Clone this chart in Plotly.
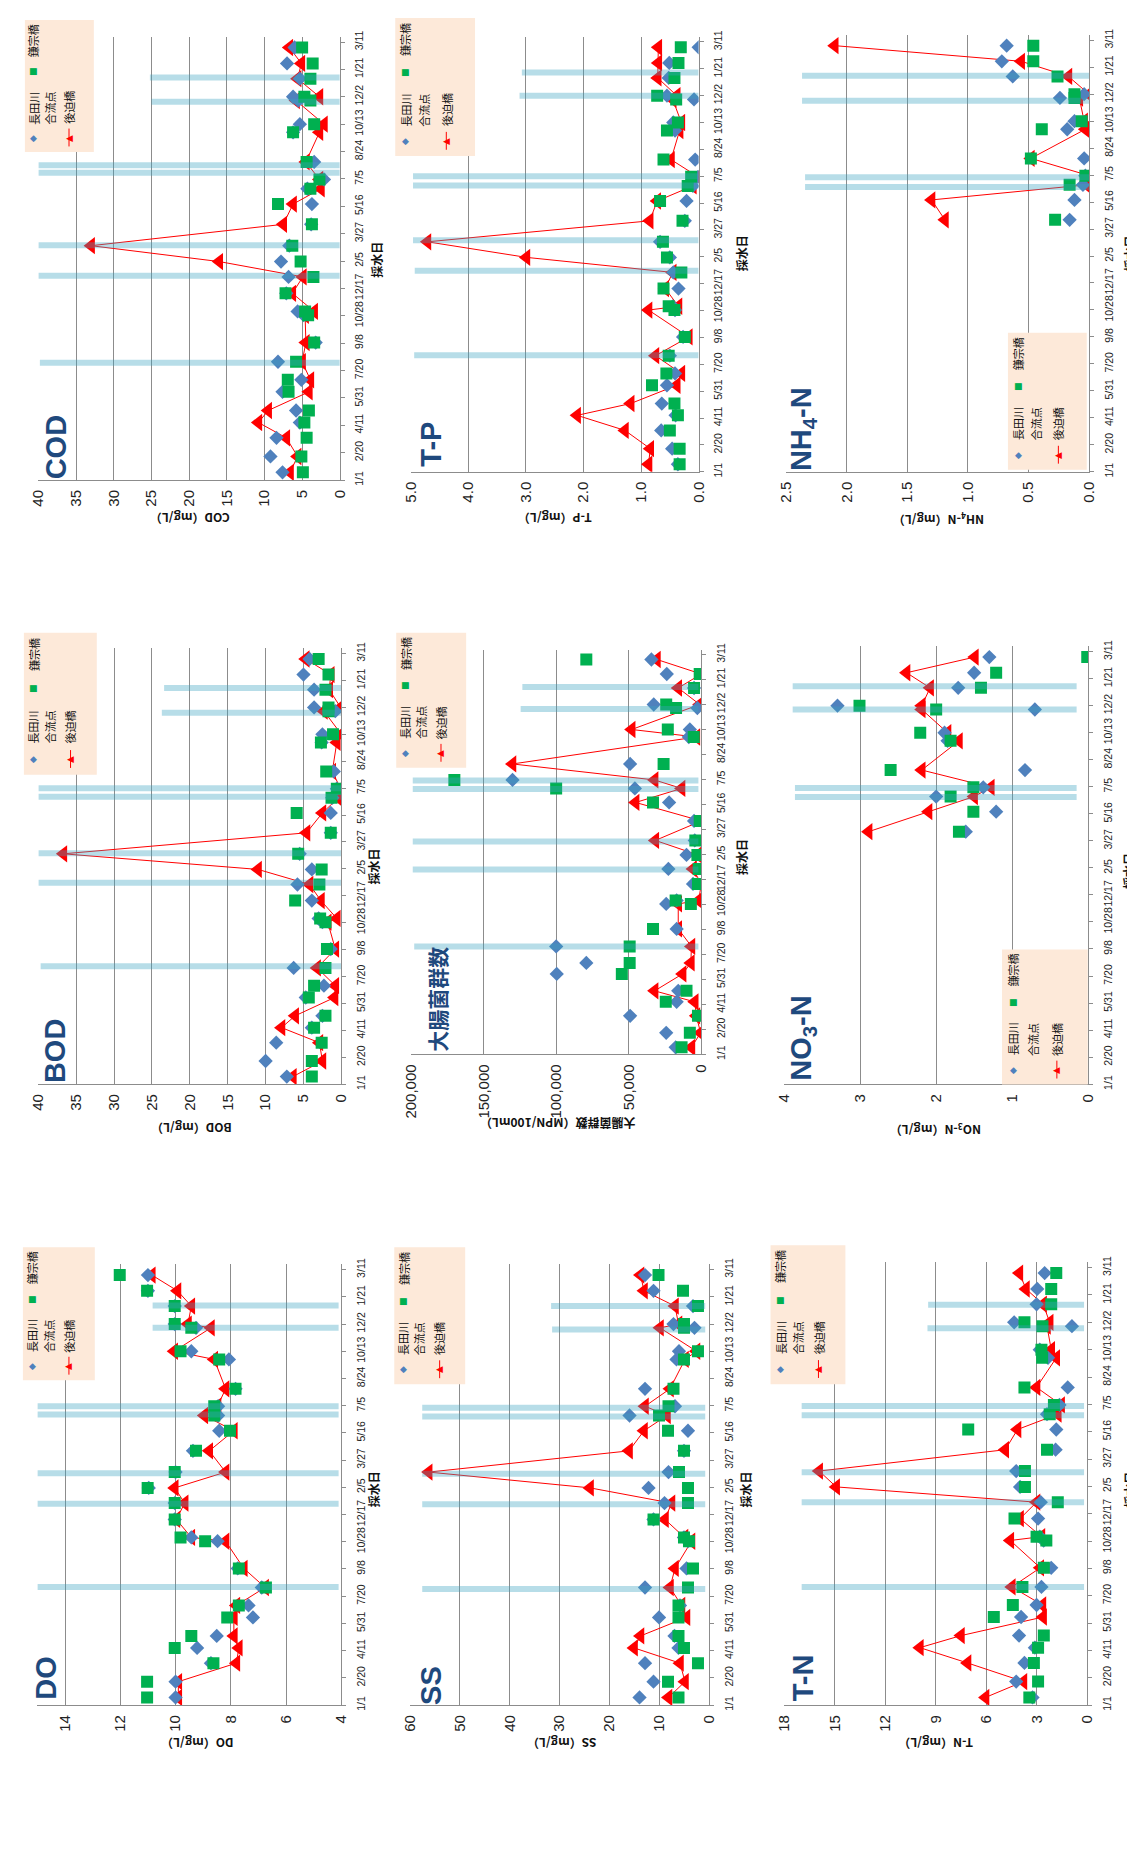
import plotly.graph_objects as go

W, H = 1135, 1852

# ---------------- data ----------------
sample_dates = ["2014-01-15", "2014-02-13", "2014-03-19", "2014-04-16", "2014-05-08",
                "2014-06-11", "2014-07-03", "2014-08-05", "2014-09-09", "2014-10-29",
                "2014-11-05", "2014-12-08", "2015-01-07", "2015-02-04", "2015-03-05",
                "2015-04-13", "2015-05-20", "2015-06-17", "2015-07-04", "2015-08-05",
                "2015-09-28", "2015-10-13", "2015-11-25", "2015-12-02", "2016-01-04",
                "2016-02-01", "2016-03-01"]

station_names = ["長田川", "合流点", "鎌宗橋", "後迫橋"]
N0 = [None] * 15

cod_nagata = [7.6, 9.2, 8.4, 5.3, 5.8, 7.6, 5.1, 8.2, 3.2, 4.8, 5.6, 7.1, 6.8, 7.8, 6.7, 3.8, 3.7, 4.3, 2.1, 3.4, 6.2, 5.3, 5.5, 6.2, 5.3, 7.0, 6.0]
cod_kama = [4.9, 5.1, 4.4, 4.7, 4.1, 6.8, 6.9, 5.8, 3.4, 4.2, 4.6, 7.2, 3.5, 5.2, 6.3, 3.7, 8.2, 3.9, 2.7, 4.4, 6.2, 3.4, 3.9, 4.7, 3.9, 3.6, 5.0]
cod_ushiro = [6.6, 5.6, 7.1, 10.8, 9.5, 4.1, 3.9, 5.0, 4.5, 4.6, 3.4, 6.3, 4.9, 16.0, 33.0, 7.5, 6.2, 2.5, 2.7, 4.5, 2.7, 2.1, 5.8, 2.7, 5.6, 5.1, 6.7]
cod_rain_dates = ["2014-08-03", "2015-01-09", "2015-03-06", "2015-07-16", "2015-07-30", "2015-11-23", "2016-01-06"]
cod_rain_top = [39.8, 40, 40, 40, 40, 25.0, 25.2]

tp_nagata = [0.36, 0.46, 0.65, 0.40, 0.64, 0.55, 0.41, 0.50, 0.27, 0.41, 0.45, 0.35, 0.44, 0.50, 0.67, 0.24, 0.21, 0.10, 0.01, 0.06, 0.41, 0.44, 0.08, 0.55, 0.52, 0.51, 0.0]
tp_kama = [0.33, 0.33, 0.50, 0.36, 0.42, 0.81, 0.56, 0.52, 0.24, 0.42, 0.52, 0.61, 0.30, 0.55, 0.62, 0.28, 0.67, 0.19, 0.13, 0.61, 0.55, 0.36, 0.39, 0.72, 0.42, 0.35, 0.31]
tp_ushiro = [0.87, 0.84, 1.28, 2.11, 1.18, 0.38, 0.30, 0.75, 0.17, 0.87, 0.35, 0.58, 0.45, 2.99, 4.71, 0.85, 0.72, 0.10, 0.01, 0.48, 0.33, 0.30, 0.45, 0.38, 0.71, 0.70, 0.70]
tp_rain_dates = ["2014-08-06", "2015-01-10", "2015-03-08", "2015-06-18", "2015-07-05", "2015-12-02", "2016-01-14"]
tp_rain_top = [4.94, 4.93, 4.96, 4.96, 4.96, 3.11, 3.07]

nh4_nagata = N0 + [0.16, 0.12, 0.05, 0.03, 0.04, 0.18, 0.12, 0.24, 0.04, 0.63, 0.72, 0.68]
nh4_kama = N0 + [0.28, None, 0.16, 0.03, 0.48, 0.39, 0.06, 0.12, 0.12, 0.26, 0.46, 0.46]
nh4_ushiro = N0 + [1.19, 1.30, 0.02, 0.0, 0.48, 0.03, 0.04, 0.08, 0.0, 0.17, 0.56, 2.10]
nh4_rain_dates = ["2015-06-13", "2015-07-01", "2015-11-20", "2016-01-05"]
nh4_rain_top = [2.345, 2.345, 2.37, 2.37]

bod_nagata = [7.2, 10.0, 8.6, 3.9, 2.5, 4.7, 2.3, 6.3, 1.4, 2.5, 3.0, 3.9, 5.8, 3.9, 5.5, 1.4, 1.4, 1.2, 0.6, 1.0, 2.6, 2.5, 0.8, 3.6, 3.6, 5.0, 4.2]
bod_kama = [3.9, 3.9, 2.6, 3.6, 2.1, 4.3, 3.6, 2.1, 1.9, 2.1, 2.8, 6.1, 2.9, 2.6, 5.7, 1.4, 5.9, 1.3, 0.6, 2.0, 2.7, 1.1, 1.7, 1.7, 2.1, 1.7, 3.0]
bod_ushiro = [6.4, 2.5, 2.9, 7.9, 6.1, 0.9, 0.8, 3.2, 0.8, 1.8, 0.6, 2.7, 4.2, 11.0, 36.7, 4.6, 2.5, 0.4, 0.1, 1.2, 0.6, 0.0, 2.3, 0.1, 1.6, 1.4, 4.7]
bod_rain_dates = ["2014-08-08", "2015-01-10", "2015-03-06", "2015-06-19", "2015-07-05", "2015-11-22", "2016-01-07"]
bod_rain_top = [39.7, 40, 40, 40, 40, 23.7, 23.4]

coli_nagata = [17700, 24200, 49100, 17000, 15900, 99700, 79300, 100100, 17000, 24200, 17000, 5700, 22700, 10200, 4500, 5000, 22200, 45800, 130200, 49100, 8600, 7900, 2700, 32800, 5000, 23800, 34400]
coli_kama = [13600, 7900, 2300, 24500, 10200, 54800, 49400, 49400, 33300, 7200, 17700, 2300, 1800, 2700, 4100, 1100, 33300, 100100, 170300, 26000, 5200, 23100, 17400, 24200, 5000, 1100, 79300]
coli_ushiro = [6800, 500, 3400, 4500, 32200, 12900, 7200, 6800, 15900, 15900, 1800, 0, 5700, 2300, 31700, 0, 45300, 13600, 32200, 130200, 3400, 48000, None, 1100, 15900, 0, 30600]
coli_rain_dates = ["2014-08-05", "2015-01-06", "2015-03-03", "2015-06-16", "2015-07-03", "2015-11-23", "2016-01-06"]
coli_rain_top = [198000, 199000, 199000, 199000, 199000, 124600, 123400]

no3_nagata = N0 + [1.61, 1.21, 2.00, 1.38, 0.83, 1.85, 1.89, 0.70, 3.30, 1.71, 1.50, 1.30]
no3_kama = N0 + [1.70, 1.51, 1.81, 1.51, 2.60, 1.81, 2.21, 2.00, 3.01, 1.41, 1.21, 0.01]
no3_ushiro = N0 + [2.89, 2.10, 1.50, 1.28, 2.19, 1.70, 1.85, 2.19, 2.19, 2.08, 2.39, 1.49]
no3_rain_dates = ["2015-06-16", "2015-07-03", "2015-11-25", "2016-01-07"]
no3_rain_top = [3.86, 3.86, 3.89, 3.89]

do_nagata = [10.0, 10.0, 8.72, 9.22, 8.51, 7.20, 7.36, 6.88, 7.75, 8.48, 9.43, 10.03, 10.03, 10.97, 10.0, 9.37, 8.42, 8.46, 8.46, 7.83, 8.07, 9.43, 9.26, 10.03, 10.03, 11.0, 11.0]
do_kama = [11.03, 11.03, 8.63, 10.03, 9.43, 8.13, 7.71, 6.73, 7.71, 8.93, 9.82, 10.03, 10.03, 11.01, 10.03, 9.26, 8.03, 8.60, 8.60, 7.83, 8.42, 9.82, 9.43, 10.03, 10.03, 11.03, 12.02]
do_ushiro = [9.9, 9.9, 7.80, 7.71, 7.89, 7.89, 7.8, 6.76, 7.53, 8.19, 9.43, 9.97, 9.67, 10.03, 8.19, 8.78, 7.89, 8.96, 8.48, 8.19, 8.60, 10.05, 8.72, 9.55, 9.43, 9.93, 10.86]
do_rain_dates = ["2014-08-06", "2015-01-06", "2015-03-03", "2015-06-19", "2015-07-04", "2015-11-25", "2016-01-05"]
do_rain_top = [15, 15, 15, 15, 15, 10.83, 10.83]

ss_nagata = [14.0, 11.2, 12.9, 6.2, 7.0, 10.1, 5.9, 12.9, 4.6, 4.3, 5.1, 11.2, 9.0, 12.2, 8.2, 5.1, 4.3, 16.0, 6.9, 12.9, 6.6, 6.1, 3.0, 7.2, 3.3, 11.2, 12.9]
ss_kama = [6.2, 8.3, 2.3, 5.1, 6.2, 6.2, 6.2, 4.3, 3.3, 4.1, 5.1, 11.2, 4.3, 4.3, 6.1, 5.1, 8.3, 10.1, 8.2, 7.2, 5.1, 2.3, 5.1, 5.1, 2.3, 5.3, 10.2]
ss_ushiro = [8.2, 4.9, 5.9, 15.1, 13.8, 4.6, 5.6, 7.9, 6.9, 3.6, 5.0, 8.9, 7.6, 23.9, 56.2, 16.1, 13.1, 8.5, 12.9, 7.9, 4.9, 2.6, 9.9, 6.2, 6.9, 13.1, 13.8]
ss_rain_dates = ["2014-08-02", "2015-01-05", "2015-03-02", "2015-06-15", "2015-07-01", "2015-11-22", "2016-01-04"]
ss_rain_top = [57.5, 57.5, 57.5, 57.5, 57.5, 31.5, 31.7]

tn_nagata = [3.26, 4.23, 3.74, 3.12, 4.06, 3.94, 3.02, 2.73, 2.15, 2.6, 2.83, 2.93, 2.77, 4.0, 4.23, 1.89, 1.85, 2.4, 1.66, 1.17, 2.34, 2.83, 0.92, 4.35, 3.02, 2.98, 2.54]
tn_kama = [3.45, 2.93, 3.18, 2.93, 2.59, 5.56, 4.43, 3.86, 2.59, 2.44, 3.02, 4.33, 1.76, 3.71, 3.71, 2.40, 7.08, 2.24, 1.99, 3.74, 2.69, 2.73, 2.67, 3.74, 2.15, 2.15, 1.85]
tn_ushiro = [6.05, 3.80, 7.12, 9.95, 7.51, 2.63, 2.67, 4.49, 2.8, 4.58, 2.73, 4.0, 3.02, 14.92, 15.93, 4.88, 4.15, 1.76, 1.56, 3.02, 1.85, 2.15, 2.4, 2.24, 2.63, 3.65, 4.04]
tn_rain_dates = ["2014-08-05", "2015-01-07", "2015-03-03", "2015-06-15", "2015-07-02", "2015-11-21", "2016-01-03"]
tn_rain_top = [16.97, 16.97, 16.97, 16.97, 16.97, 9.5, 9.46]

# ---------------- styling / layout ----------------
C_BLUE = "#4F81BD"
C_GREEN = "#00B050"
C_RED = "#FF0000"
C_RAIN = "rgba(60,162,193,0.37)"
C_GRID = "#8C8C8C"
C_LABEL = "#1F497D"
C_LEGBG = "#FDE9D9"
F_NUM = "Liberation Sans, Arial, sans-serif"
F_JP = "Noto Sans CJK JP, sans-serif"
DATE_RANGE = ["2014-01-01", "2016-03-21"]

panels = [
    dict(v=(cod_nagata, cod_kama, cod_ushiro), rain=(cod_rain_dates, cod_rain_top, 0),
         label="COD", lpos=(40, 435), title="COD（mg/L）", tpos=(175, 507), spos=(365, 247),
         box=(21.7, 21.7, 327.7, 468.3), rng=[40, 0], dtick=5, tick0=0, fmt="d", leg=(8, 5, 78, 138)),
    dict(v=(tp_nagata, tp_kama, tp_ushiro), rain=(tp_rain_dates, tp_rain_top, 0),
         label="T-P", lpos=(420, 432), title="T-P（mg/L）", tpos=(546, 507), spos=(735, 240),
         box=(399.7, 21.7, 692, 460), rng=[5, 0], dtick=1, tick0=0, fmt=".1f", leg=(384, 3, 465, 142)),
    dict(v=(nh4_nagata, nh4_kama, nh4_ushiro), rain=(nh4_rain_dates, nh4_rain_top, 0),
         label="NH<sub>4</sub>-N", lpos=(798, 417), title="NH<sub>4</sub>-N（mg/L）", tpos=(935, 508), spos=(1129, 240),
         box=(781, 20, 1088.3, 460), rng=[2.5, 0], dtick=0.5, tick0=0, fmt=".1f", leg=(1006, 320, 1086, 458)),
    dict(v=(bod_nagata, bod_kama, bod_ushiro), rain=(bod_rain_dates, bod_rain_top, 0),
         label="BOD", lpos=(38, 1043), title="BOD（mg/L）", tpos=(177, 1122), spos=(362, 858),
         box=(21.7, 637.7, 329.3, 1076.7), rng=[40, 0], dtick=5, tick0=0, fmt="d", leg=(7, 622, 81, 765)),
    dict(v=(coli_nagata, coli_kama, coli_ushiro), rain=(coli_rain_dates, coli_rain_top, 2000),
         label="大腸菌群数", lpos=(426, 991), title="大腸菌群数（MPN/100mL）", tpos=(549, 1117), spos=(735, 848),
         box=(400.3, 639, 694.7, 1046.7), rng=[200000, 0], dtick=50000, tick0=0, fmt=",d", leg=(385, 622, 456, 758)),
    dict(v=(no3_nagata, no3_kama, no3_ushiro), rain=(no3_rain_dates, no3_rain_top, 0.15),
         label="NO<sub>3</sub>-N", lpos=(798, 1031), title="NO<sub>3</sub>-N（mg/L）", tpos=(933, 1123), spos=(1129, 862),
         box=(779, 635.7, 1087.3, 1076.7), rng=[4, 0], dtick=1, tick0=0, fmt="d", leg=(1000, 941, 1087, 1077)),
    dict(v=(do_nagata, do_kama, do_ushiro), rain=(do_rain_dates, do_rain_top, 4.1),
         label="DO", lpos=(30, 1675), title="DO（mg/L）", tpos=(183, 1740), spos=(362, 1485),
         box=(20.7, 1258, 329.3, 1702), rng=[15, 4], dtick=2, tick0=4, fmt="d", leg=(6, 1241, 79, 1375)),
    dict(v=(ss_nagata, ss_kama, ss_ushiro), rain=(ss_rain_dates, ss_rain_top, 0.85),
         label="SS", lpos=(420, 1682), title="SS（mg/L）", tpos=(553, 1740), spos=(740, 1485),
         box=(398.7, 1258, 703, 1702), rng=[60, 0], dtick=10, tick0=0, fmt="d", leg=(383, 1241, 455, 1379)),
    dict(v=(tn_nagata, tn_kama, tn_ushiro), rain=(tn_rain_dates, tn_rain_top, 0.2),
         label="T-N", lpos=(798, 1675), title="T-N（mg/L）", tpos=(933, 1740), spos=(1129, 1485),
         box=(779, 1256, 1086.7, 1702), rng=[18, 0], dtick=3, tick0=0, fmt="d", leg=(765, 1239, 841, 1379)),
]


def px(x):
    return x / W


def py(y):
    return 1 - y / H


fig = go.Figure()
annotations = []
shapes = []
layout_axes = {}

for i, p in enumerate(panels, start=1):
    sfx = "" if i == 1 else str(i)
    xa, ya = "x" + sfx, "y" + sfx
    nagata, kama, ushiro = p["v"]
    common = dict(xaxis=xa, yaxis=ya, hoverinfo="skip", showlegend=False)

    fig.add_trace(go.Scatter(x=ushiro, y=sample_dates, mode="lines+markers", connectgaps=True,
                             line=dict(color=C_RED, width=1),
                             marker=dict(symbol="triangle-left", size=15, color=C_RED), **common))
    fig.add_trace(go.Scatter(x=nagata, y=sample_dates, mode="markers",
                             marker=dict(symbol="diamond", size=11, color=C_BLUE), **common))
    fig.add_trace(go.Scatter(x=kama, y=sample_dates, mode="markers",
                             marker=dict(symbol="square", size=12, color=C_GREEN), **common))

    rdates, rtops, rbase = p["rain"]
    bx, by = [], []
    for d, t in zip(rdates, rtops):
        bx += [rbase, t, None]
        by += [d, d, None]
    fig.add_trace(go.Scatter(x=bx, y=by, mode="lines", line=dict(color=C_RAIN, width=6), **common))

    l, t, r, b = p["box"]
    layout_axes["xaxis" + sfx] = dict(
        domain=[px(l), px(r)], anchor=ya, range=p["rng"], dtick=p["dtick"], tick0=p["tick0"],
        tickformat=p["fmt"], showgrid=True, gridcolor=C_GRID, gridwidth=1, zeroline=False,
        showline=True, linecolor=C_GRID, linewidth=1, ticks="", tickangle=-90,
        ticklabelstandoff=3, tickfont=dict(family=F_NUM, size=15, color="#222"), fixedrange=True)
    layout_axes["yaxis" + sfx] = dict(
        domain=[py(b), py(t)], anchor=xa, type="date", range=DATE_RANGE,
        tick0="2014-01-01", dtick=50 * 86400000, tickformat="%-m/%-d", tickangle=-90,
        side="right", showline=True, linecolor=C_GRID, linewidth=1, ticks="outside",
        ticklen=4, tickcolor=C_GRID, showgrid=False, zeroline=False, ticklabelstandoff=6,
        tickfont=dict(family=F_NUM, size=10.5, color="#222"), fixedrange=True)

    # panel label
    is_jp = p["label"] == "大腸菌群数"
    annotations.append(dict(
        text="<b>%s</b>" % p["label"], x=px(p["lpos"][0]), y=py(p["lpos"][1]), xref="paper", yref="paper",
        textangle=-90, showarrow=False, xanchor="center", yanchor="middle",
        font=dict(family=F_JP if is_jp else F_NUM, size=21 if is_jp else 29, color=C_LABEL)))
    # value axis title (upside-down)
    annotations.append(dict(
        text="<b>%s</b>" % p["title"], x=px(p["tpos"][0]), y=py(p["tpos"][1]), xref="paper", yref="paper",
        textangle=180, showarrow=False, xanchor="center", yanchor="middle",
        font=dict(family=F_JP, size=12, color="#111")))
    # date axis title
    annotations.append(dict(
        text="<b>採水日</b>", x=px(p["spos"][0]), y=py(p["spos"][1]), xref="paper", yref="paper",
        textangle=-90, showarrow=False, xanchor="center", yanchor="middle",
        font=dict(family=F_JP, size=12, color="#111")))

    # legend box
    x0, y0, x1, y1 = p["leg"]
    w, h = x1 - x0, y1 - y0
    shapes.append(dict(type="rect", xref="paper", yref="paper", x0=px(x0), x1=px(x1),
                       y0=py(y1), y1=py(y0), fillcolor=C_LEGBG, line=dict(width=0), layer="above"))
    c1, c2, c3 = x0 + 0.13 * w, x0 + 0.36 * w, x0 + 0.64 * w
    ym = y1 - 0.11 * h
    yt = y1 - 0.335 * h
    ysq = y1 - 0.61 * h
    yt2 = y1 - 0.845 * h
    sym_font = dict(family="DejaVu Sans, sans-serif", size=9)
    annotations.append(dict(text="◆", x=px(c1), y=py(ym), xref="paper", yref="paper", showarrow=False,
                            xanchor="center", yanchor="middle", font=dict(sym_font, color=C_BLUE)))
    annotations.append(dict(text="■", x=px(c1), y=py(ysq), xref="paper", yref="paper", showarrow=False,
                            xanchor="center", yanchor="middle", font=dict(sym_font, color=C_GREEN)))
    shapes.append(dict(type="line", xref="paper", yref="paper", x0=px(c3), x1=px(c3),
                       y0=py(ym + 9), y1=py(ym - 9), line=dict(color=C_RED, width=1), layer="above"))
    annotations.append(dict(text="◀", x=px(c3), y=py(ym), xref="paper", yref="paper", showarrow=False,
                            xanchor="center", yanchor="middle", font=dict(sym_font, color=C_RED)))
    for txt, cx, cy in ((station_names[0], c1, yt), (station_names[1], c2, yt),
                        (station_names[3], c3, yt), (station_names[2], c1, yt2)):
        annotations.append(dict(text=txt, x=px(cx), y=py(cy), xref="paper", yref="paper", showarrow=False,
                                textangle=-90, xanchor="center", yanchor="middle",
                                font=dict(family=F_JP, size=11, color="#111")))

fig.update_layout(
    width=W, height=H, autosize=False,
    margin=dict(l=0, r=0, t=0, b=0),
    paper_bgcolor="white", plot_bgcolor="white",
    annotations=annotations, shapes=shapes, **layout_axes)

fig.write_html("out.html")
